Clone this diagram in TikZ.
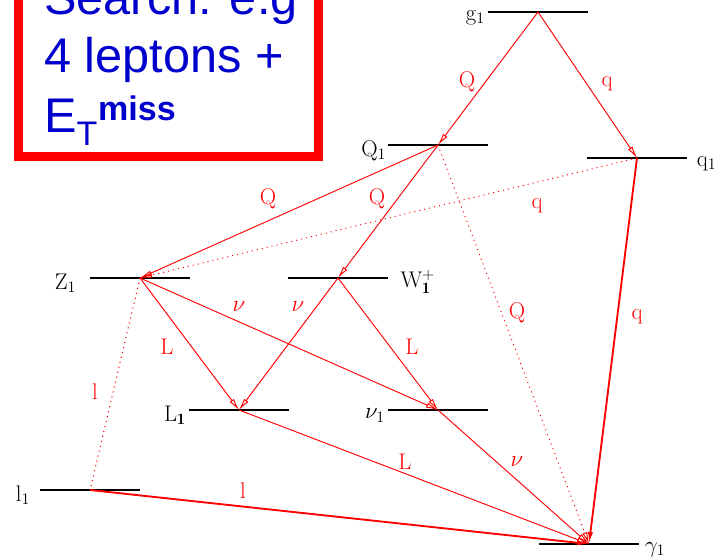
\documentclass[tikz,border=0pt]{standalone}
\usepackage{fontspec}
\newfontfamily\boxfont{Liberation Sans}
\usetikzlibrary{arrows.meta,positioning}
\definecolor{boxblue}{RGB}{0,0,205}

\tikzset{
  level/.style={minimum width=75pt, minimum height=0pt, inner sep=0pt},
  levelline/.style={draw=black, line width=1.1pt},
  statename/.style={font=\fontsize{17}{20}\selectfont, inner sep=0pt},
  decay/.style={draw=red, line width=0.7pt, -{Latex[open,length=9pt,width=4pt]}},
  virt/.style={decay, dash pattern=on 0.8pt off 3pt},
  elabel/.style={text=red, font=\fontsize{17}{20}\selectfont, inner sep=0pt},
  boxtext/.style={text=boxblue, font=\boxfont\fontsize{36.5}{40}\selectfont, inner sep=0pt, anchor=base west},
}

\begin{document}
\begin{tikzpicture}[x=0.75pt, y=-0.75pt]
  \clip (0,0) rectangle (726,560);

  % Massenniveaus
  \node[level] (g1)   at (538, 12)  {};
  \node[level] (Q1)   at (438,145)  {};
  \node[level] (q1)   at (637,158)  {};
  \node[level] (Z1)   at (140,278)  {};
  \node[level] (W1)   at (338,278)  {};
  \node[level] (L1)   at (239,410)  {};
  \node[level] (nu1)  at (438,410)  {};
  \node[level] (l1)   at (90,490)   {};
  \node[level] (chi1) at (589,544)  {};
  \foreach \n in {g1,Q1,q1,Z1,W1,L1,nu1,l1,chi1}
    \draw[levelline] (\n.west) -- (\n.east);

  % Namen der Zustaende
  \node[statename, left=2pt of g1,    yshift=-4pt] (tg1)  {$\mathrm{g}_1$};
  \node[statename, left=1pt of Q1,    yshift=-4pt] (tQ1)  {$\mathrm{Q}_1$};
  \node[statename, right=7pt of q1,   yshift=-4pt] (tq1)  {$\mathrm{q}_1$};
  \node[statename, left=10pt of Z1,   yshift=-4pt] (tZ1)  {$\mathrm{Z}_1$};
  \node[statename, right=9pt of W1,   yshift=-3pt] (tW1)  {$\mathrm{W}^{+}_{\mathbf{1}}$};
  \node[statename, left=2pt of L1,    yshift=-4pt] (tL1)  {$\mathrm{L}_{\mathbf{1}}$};
  \node[statename, left=2pt of nu1,   yshift=-4pt] (tnu1) {$\nu_1$};
  \node[statename, left=7pt of l1,    yshift=-4pt] (tl1)  {$\mathrm{l}_1$};
  \node[statename, right=4pt of chi1, yshift=-4pt] (tchi1){$\gamma_1$};

  % Zerfaelle
  \draw[decay] (g1.center)  -- (Q1.center);
  \draw[decay] (g1.center)  -- (q1.center);
  \draw[decay] (Q1.center)  -- (Z1.center);
  \draw[decay] (Q1.center)  -- (W1.center);
  \draw[virt]  (q1.center)  -- (Z1.center);
  \draw[virt]  (Q1.center)  -- (chi1.center);
  \draw[decay, line width=1.4pt] (q1.center) -- (chi1.center);
  \draw[decay] (Z1.center)  -- (L1.center);
  \draw[decay] (Z1.center)  -- (nu1.center);
  \draw[decay] (W1.center)  -- (L1.center);
  \draw[decay] (W1.center)  -- (nu1.center);
  \draw[draw=red, line width=0.8pt, dash pattern=on 0.8pt off 3pt] (Z1.center) -- (l1.center);
  \draw[decay] (L1.center)  -- (chi1.center);
  \draw[decay] (nu1.center) -- (chi1.center);
  \draw[decay, line width=1.4pt] (l1.center) -- (chi1.center);

  % Teilchen an den Linien
  \node[elabel] (eQa)  at (467, 82)  {Q};
  \node[elabel] (eqa)  at (607, 84)  {q};
  \node[elabel] (eQb)  at (268,199)  {Q};
  \node[elabel] (eQc)  at (377,199)  {Q};
  \node[elabel] (eqb)  at (537,206)  {q};
  \node[elabel] (eQd)  at (517,313)  {Q};
  \node[elabel] (eqc)  at (637,317)  {q};
  \node[elabel] (enua) at (239,307)  {$\nu$};
  \node[elabel] (enub) at (298,307)  {$\nu$};
  \node[elabel] (eLa)  at (167,347)  {L};
  \node[elabel] (eLb)  at (412,347)  {L};
  \node[elabel] (ela)  at (95,392)   {l};
  \node[elabel] (eLc)  at (405,462)  {L};
  \node[elabel] (enuc) at (517,462)  {$\nu$};
  \node[elabel] (elb)  at (243,491)  {l};

  % Kasten
  \draw[red, line width=6.75pt, fill=white] (18.5,-40) rectangle (318,157);
  \node[boxtext] (srch)  at (44,15)  {Search: e.g};
  \node[boxtext] (lept)  at (44,73)  {4 leptons +};
  \node[boxtext] (emiss) at (44,133) {E\textsubscript{T}\textsuperscript{\bfseries miss}};
\end{tikzpicture}
\end{document}
